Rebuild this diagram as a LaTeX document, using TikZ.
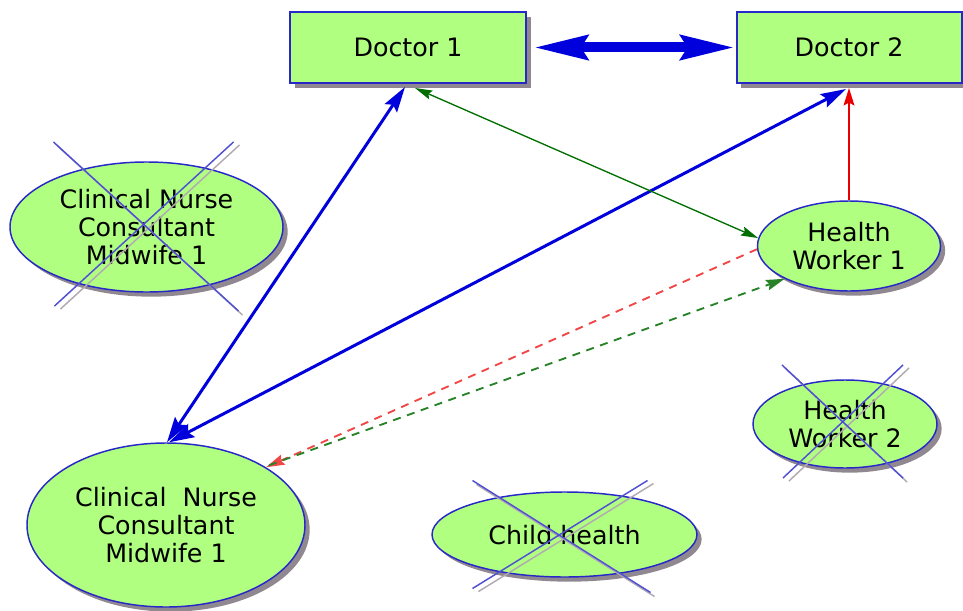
\documentclass[tikz,border=0pt]{standalone}
\usepackage{fontspec}
\setmainfont{DejaVu Sans}
\usetikzlibrary{shapes.geometric,arrows.meta,shadows,calc}

\definecolor{boxfill}{RGB}{176,255,128}
\definecolor{boxline}{RGB}{40,40,200}
\definecolor{linkblue}{RGB}{0,0,220}
\definecolor{linkgreen}{RGB}{0,110,0}
\definecolor{dashgreen}{RGB}{40,130,40}
\definecolor{linkred}{RGB}{235,0,0}
\definecolor{dashred}{RGB}{240,70,70}
\definecolor{crossblue}{RGB}{80,80,210}
\definecolor{shadowgray}{RGB}{125,115,125}

\tikzset{
  x=0.75pt, y=-0.75pt,
  labeltext/.style={font=\fontsize{19}{21}\selectfont, align=center, text=black},
  shade box/.style={drop shadow={shadow xshift=3.5pt, shadow yshift=-3.5pt, fill=shadowgray, opacity=0.85}},
  role/.style={labeltext, draw=boxline, line width=1.5pt, fill=boxfill, inner sep=0pt, shade box},
  person/.style={labeltext, ellipse, draw=boxline, line width=1.1pt, fill=boxfill, inner sep=0pt, shade box},
  strike/.style={crossblue, line width=1.1pt},
  strikeshadow/.style={shadowgray!60, line width=1.1pt},
  strong link/.style={linkblue, line width=2.25pt, {Stealth[length=19pt,width=11pt,inset=3pt]}-{Stealth[length=19pt,width=11pt,inset=3pt]}},
  thin green/.style={linkgreen, line width=1pt, {Stealth[length=13pt,width=7pt,inset=2pt]}-{Stealth[length=13pt,width=7pt,inset=2pt]}},
  dashlink/.style={line width=1.4pt, dash pattern=on 6pt off 5pt},
}

\begin{document}
\begin{tikzpicture}
  \useasboundingbox (0,0) rectangle (963,610);

  % role boxes
  \node[role, minimum width=177pt, minimum height=53.25pt] (doc1) at (408,47.5) {Doctor 1};
  \node[role, minimum width=168.75pt, minimum height=53.25pt] (doc2) at (849,47.5) {Doctor 2};

  % people
  \node[person, minimum width=204.75pt, minimum height=97.5pt] (cn1) at (146.5,227) {Clinical Nurse\\Consultant\\Midwife 1};
  \node[person, minimum width=137.25pt, minimum height=67.5pt] (hw1) at (849,246) {Health\\Worker 1};
  \node[person, minimum width=138pt, minimum height=66pt] (hw2) at (845,424) {Health\\Worker 2};
  \node[person, minimum width=198.75pt, minimum height=63.75pt, text depth=-2pt] (child) at (564.5,534.5) {Child health};
  \node[person, minimum width=208.5pt, minimum height=123pt] (cn2) at (166,525) {Clinical~~Nurse\\Consultant\\Midwife 1};

  % strike-through marks on inactive roles
  \foreach \n/\ax/\ay/\bx/\by/\cx/\cy/\dx/\dy in {
      cn1/-93/-85/92/84/87/-85/-92/79,
      hw2/-63/-59/58/54/58/-59/-62/54,
      child/-92/-54/86/58/83/-54/-92/54} {
    \draw[strikeshadow] ($(\n)+(\cx+6,\cy+3)$) -- ($(\n)+(\dx+6,\dy+3)$);
    \draw[strikeshadow] ($(\n)+(\ax+4,\ay+4)$) -- ($(\n)+(\bx+4,\by+4)$);
    \draw[strike] ($(\n)+(\ax,\ay)$) -- ($(\n)+(\bx,\by)$);
    \draw[strike] ($(\n)+(\cx,\cy)$) -- ($(\n)+(\dx,\dy)$);
  }

  % link between the doctors
  \draw[linkblue, line width=7.5pt, {Stealth[length=40pt,width=18pt,inset=5pt]}-{Stealth[length=40pt,width=18pt,inset=5pt]}]
    ($(doc1.east)+(7,0)$) -- ($(doc2.west)+(-1,0)$);

  % strong links to the midwife
  \draw[strong link] ($(doc1.south)+(-3,3)$) -- ($(cn2.north)+(1,0)$);
  \draw[strong link] ($(doc2.south)+(-3,5)$) -- ($(cn2.north)+(3,0)$);

  % health worker 1 reports to doctor 2
  \draw[linkred, line width=1.6pt, -{Stealth[length=13pt,width=8pt,inset=2pt]}] (hw1.north) -- ($(doc2.south)+(0,4)$);

  % doctor 1 and health worker 1
  \draw[thin green] ($(doc1.south)+(7,4)$) -- (hw1.175);

  % dashed links between health worker 1 and the midwife
  \draw[dashlink, dashred, -{Stealth[length=14pt,width=8pt,inset=2pt]}] (hw1.182) -- (cn2.30);
  \draw[dashlink, dashgreen, -{Stealth[length=14pt,width=8pt,inset=2pt]}] ($(cn2.30)+(3,-2)$) -- (hw1.207);
\end{tikzpicture}
\end{document}
